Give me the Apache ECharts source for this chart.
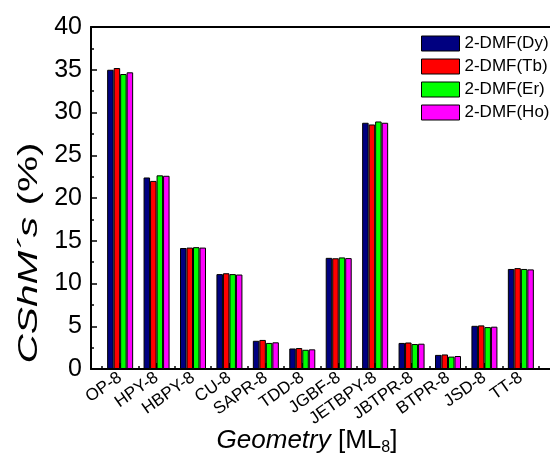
<!DOCTYPE html>
<html><head><meta charset="utf-8">
<script src="https://cdn.jsdelivr.net/npm/echarts@6/dist/echarts.min.js"></script>
<style>html,body{margin:0;padding:0;background:#fff}#c{width:550px;height:461px}</style>
</head><body><div id="c"></div>
<script>
var categories = ['OP-8','HPY-8','HBPY-8','CU-8','SAPR-8','TDD-8','JGBF-8','JETBPY-8','JBTPR-8','BTPR-8','JSD-8','TT-8'];
var seriesNames = ['2-DMF(Dy)','2-DMF(Tb)','2-DMF(Er)','2-DMF(Ho)'];
var dy = [35.0, 22.4, 14.15, 11.1, 3.3, 2.4, 13.0, 28.8, 3.05, 1.65, 5.05, 11.7];
var tb = [35.2, 22.0, 14.2, 11.2, 3.4, 2.45, 12.95, 28.6, 3.1, 1.7, 5.1, 11.8];
var er = [34.5, 22.65, 14.25, 11.1, 3.05, 2.25, 13.05, 28.95, 2.92, 1.45, 4.9, 11.7];
var ho = [34.7, 22.6, 14.2, 11.05, 3.12, 2.3, 12.97, 28.8, 2.96, 1.52, 4.95, 11.65];
var yTicks = [0,5,10,15,20,25,30,35,40];

var colors = ['#000080','#FF0000','#00FF00','#FF00FF'];
var allVals = [dy, tb, er, ho];
var centers = categories.map(function(c,i){return i+1;});
var bounds = [0.5].concat(centers.map(function(c){return c+0.5;}));

var chart = echarts.init(document.getElementById('c'));
var FONT = '"Liberation Sans", Arial, sans-serif';
var series = seriesNames.map(function(n, k){
  return {
    name: n, type: 'bar', xAxisIndex: 0, yAxisIndex: 0,
    barWidth: 6.5, barGap: '0%',
    itemStyle: {color: colors[k], borderColor: '#000', borderWidth: 1},
    data: allVals[k].map(function(v,i){return [centers[i], v];})
  };
});
chart.setOption({
  animation: false,
  textStyle: {fontFamily: FONT},
  grid: {left: 91, top: 27, bottom: 92, right: -9, containLabel: false},
  legend: {
    orient: 'vertical', left: 421, top: 35, padding: 0, itemWidth: 38, itemHeight: 15, itemGap: 6,
    icon: 'rect',
    textStyle: {fontSize: 17, color: '#000', fontFamily: FONT},
    itemStyle: {borderColor: '#000', borderWidth: 1},
    data: seriesNames
  },
  xAxis: [
    {type: 'value', min: 0.2, max: 12.8, position: 'bottom',
     axisLine: {show: true, lineStyle: {color: '#000', width: 2}},
     axisTick: {show: true, inside: true, length: 6, lineStyle: {color: '#000', width: 2}, customValues: centers},
     axisLabel: {show: true, customValues: centers, rotate: 35, fontSize: 17, color: '#000', margin: 7, fontFamily: FONT,
       formatter: function(v){ return categories[Math.round(v)-1] || ''; }},
     splitLine: {show: false}},
    {type: 'value', min: 0.2, max: 12.8, position: 'bottom',
     axisLine: {show: false},
     axisTick: {show: true, inside: true, length: 3, lineStyle: {color: '#000', width: 1.5}, customValues: bounds},
     axisLabel: {show: false}, splitLine: {show: false}},
    {type: 'value', min: 0.2, max: 12.8, position: 'top',
     axisLine: {show: true, lineStyle: {color: '#000', width: 2}},
     axisTick: {show: false}, axisLabel: {show: false}, splitLine: {show: false}}
  ],
  yAxis: [{
    type: 'value', min: yTicks[0], max: yTicks[yTicks.length-1], interval: 5,
    axisLine: {show: true, lineStyle: {color: '#000', width: 2}},
    axisTick: {show: true, inside: true, length: 6, lineStyle: {color: '#000', width: 1.5}},
    minorTick: {show: true, splitNumber: 2, length: 3, lineStyle: {color: '#000', width: 1.5}},
    axisLabel: {fontSize: 25, color: '#000', margin: 9, fontFamily: FONT},
    splitLine: {show: false}
  }],
  graphic: [
    {type: 'text', x: 29, y: 253, rotation: Math.PI/2, scaleX: 1.45, scaleY: 1,
     style: {text: '{i|CShM´s }{n|(%)}', align: 'center', verticalAlign: 'middle',
       rich: {i: {fontSize: 28, fontStyle: 'italic', fontFamily: FONT, fill: '#000'},
              n: {fontSize: 28, fontFamily: FONT, fill: '#000'}}}},
    {type: 'text', x: 307, y: 441,
     style: {text: '{i|Geometry }{n|[ML}{s|8}{n|]}', align: 'center', verticalAlign: 'middle',
       rich: {i: {fontSize: 26, fontStyle: 'italic', fontFamily: FONT, fill: '#000'},
              n: {fontSize: 26, fontFamily: FONT, fill: '#000'},
              s: {fontSize: 16, fontFamily: FONT, fill: '#000', padding: [14,0,0,0]}}}}
  ],
  series: series
});
</script></body></html>
